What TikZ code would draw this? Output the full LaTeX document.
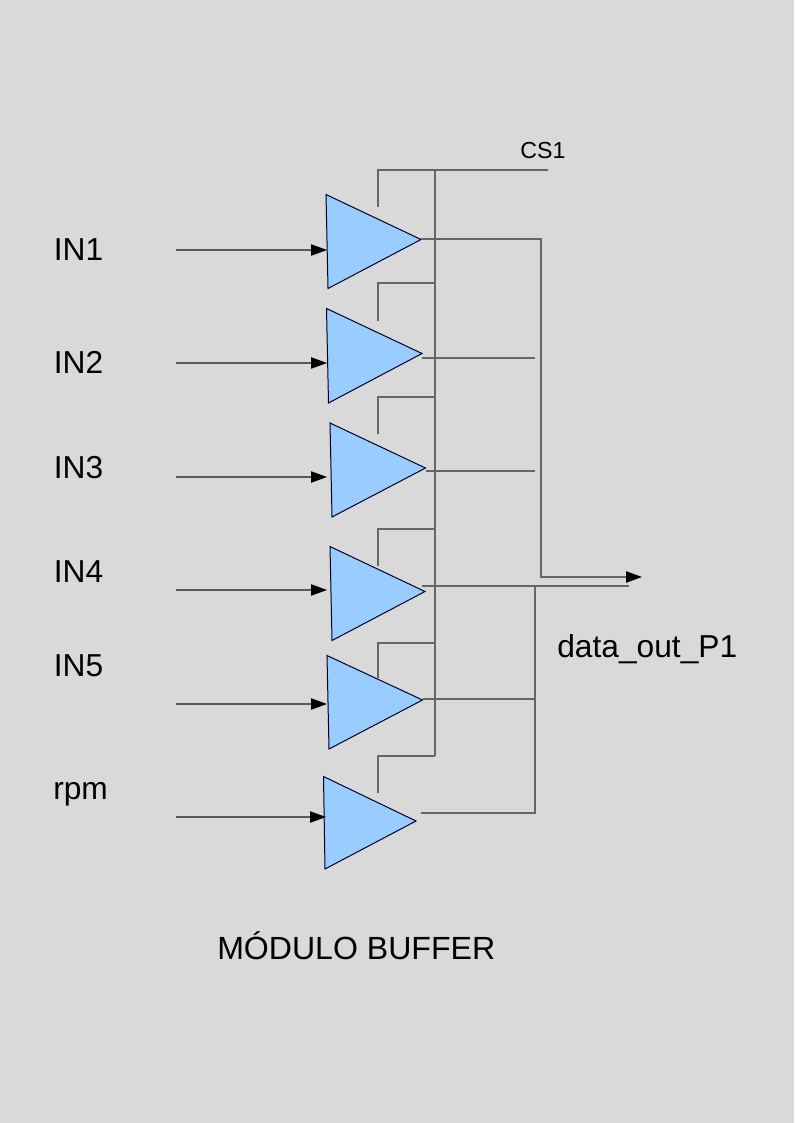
\documentclass[tikz,border=0pt]{standalone}
\usepackage{fontspec}
\setmainfont{Liberation Sans}
\usetikzlibrary{arrows.meta}
\definecolor{pagebg}{HTML}{D9D9D9}
\definecolor{bufblue}{HTML}{99CCFF}
\definecolor{wire}{HTML}{666666}
\tikzset{
  buf/.style={draw=black!85!blue, fill=bufblue, line width=0.75pt, line join=miter},
  bus/.style={draw=wire, line width=1.1pt},
  inwire/.style={draw=black!65, line width=0.8pt, -{Triangle[black,length=12pt,width=8.5pt]}},
  outwire/.style={draw=wire, line width=1.1pt, -{Triangle[black,length=12pt,width=8.5pt]}},
  lbl/.style={inner sep=0pt, anchor=base west, font=\fontsize{23.8}{28}\selectfont},
}
\begin{document}
\begin{tikzpicture}[x=0.75pt, y=-0.75pt]
  \useasboundingbox (0,0) rectangle (794,1123);
  \fill[pagebg] (0,0) rectangle (794,1123);
  % buffers
  \draw[buf] (326,194.5) coordinate (b1) -- (328,288.5) -- (421,239.5) coordinate (q1) -- cycle;
  \draw[buf] (326.5,308.5) coordinate (b2) -- (328.5,403) -- (422,353.5) coordinate (q2) -- cycle;
  \draw[buf] (330,423) coordinate (b3) -- (332,517) -- (425.5,468) coordinate (q3) -- cycle;
  \draw[buf] (330,546.5) coordinate (b4) -- (332,640.5) -- (425,591.5) coordinate (q4) -- cycle;
  \draw[buf] (327,655.5) coordinate (b5) -- (329,749) -- (422.5,700) coordinate (q5) -- cycle;
  \draw[buf] (323.5,776.5) coordinate (b6) -- (325,869) -- (416,821) coordinate (q6) -- cycle;
  % inputs
  \coordinate (i1) at (176,250); \coordinate (a1) at (327,250);
  \coordinate (i2) at (176,363); \coordinate (a2) at (327,363);
  \coordinate (i3) at (176,477); \coordinate (a3) at (327,477);
  \coordinate (i4) at (176,590); \coordinate (a4) at (327,590);
  \coordinate (i5) at (176,704); \coordinate (a5) at (327,704);
  \coordinate (i6) at (176,817); \coordinate (a6) at (326,817);
  \draw[inwire] (i1) -- (a1);
  \draw[inwire] (i2) -- (a2);
  \draw[inwire] (i3) -- (a3);
  \draw[inwire] (i4) -- (a4);
  \draw[inwire] (i5) -- (a5);
  \draw[inwire] (i6) -- (a6);
  % chip select
  \coordinate (cs) at (548,170);
  \coordinate (bustop) at (435,170);
  \coordinate (busend) at (435,756);
  \draw[bus] (bustop) -- (busend);
  \draw[bus] (378,207.5) -- (378,170) -- (cs);
  \draw[bus] (378,320.5) -- (378,283) -- (435,283);
  \draw[bus] (378,434) -- (378,397) -- (435,397);
  \draw[bus] (378,566) -- (378,529) -- (435,529);
  \draw[bus] (378,678) -- (378,643) -- (435,643);
  \draw[bus] (378,793) -- (378,756) -- (busend);
  % outputs
  \coordinate (out) at (642,577);
  \draw[outwire] (421,239.1) -- (541,239.1) -- (541,577) -- (out);
  \draw[bus] (422,358.2) -- (535,358.2);
  \draw[bus] (426,471.2) -- (535,471.2);
  \draw[bus] (422,586) -- (629,586);
  \draw[bus] (423,699) -- (535,699);
  \draw[bus] (421,813) -- (535,813) -- (535,586);
  % labels
  \node[lbl] (in1) at (53.5,260) {IN1};
  \node[lbl] (in2) at (53.5,373.5) {IN2};
  \node[lbl] (in3) at (53.5,478) {IN3};
  \node[lbl] (in4) at (53.5,582) {IN4};
  \node[lbl] (in5) at (53.5,676) {IN5};
  \node[lbl] (rpm) at (53,799) {rpm};
  \node[lbl, font=\fontsize{17.4}{20}\selectfont] (cs1) at (520,159) {CS1};
  \node[lbl] (dout) at (557,657) {data\_out\_P1};
  \node[lbl, font=\fontsize{24.05}{28}\selectfont] (title) at (217,959) {MÓDULO BUFFER};
\end{tikzpicture}
\end{document}
